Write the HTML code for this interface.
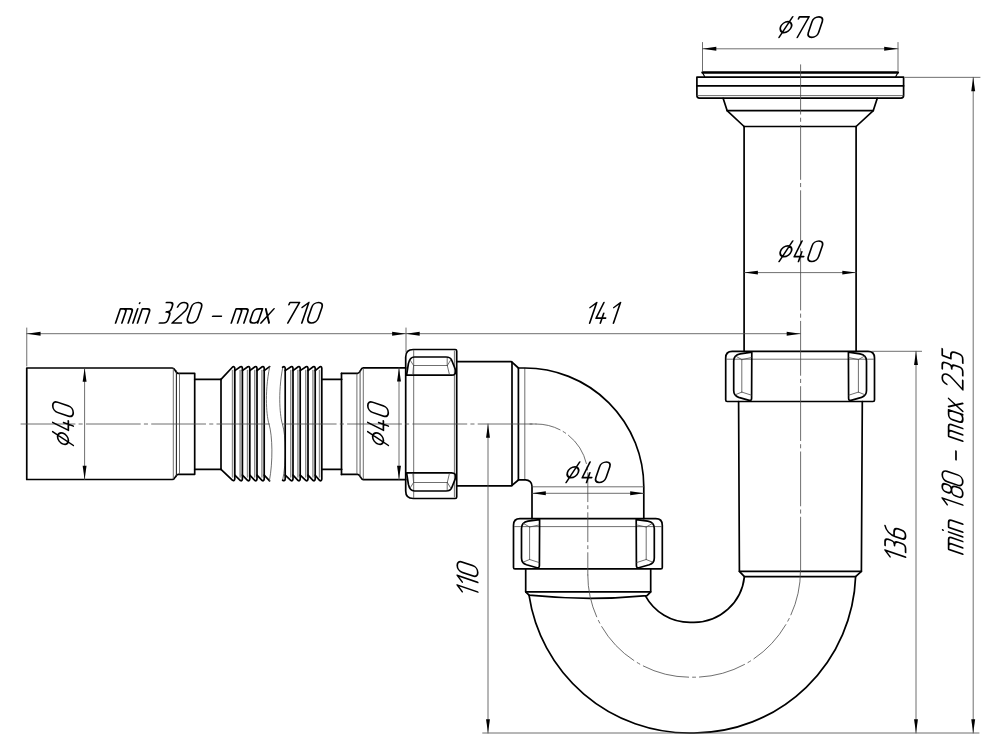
<!DOCTYPE html>
<html><head><meta charset="utf-8"><title>Siphon drawing</title>
<style>
html,body{margin:0;padding:0;background:#fff;}
body{width:1000px;height:750px;overflow:hidden;font-family:"Liberation Sans",sans-serif;}
svg{display:block;}
</style></head>
<body>
<svg width="1000" height="750" viewBox="0 0 1000 750">
<title>Siphon with flexible hose - dimensional drawing</title>
<desc>Dimensions: min 320 - max 710; 141; diameter 70; diameter 40; 110; 136; min 180 - max 235</desc>
<rect x="0" y="0" width="1000" height="750" fill="#fff"/>
<path d="M26.75,368 L172.3,368 C175.6,368 175.2,373.3 178.2,373.3 L194.7,373.3 L194.7,474.3 L178.2,474.3 C175.2,474.3 175.6,479.5 172.3,479.5 L26.75,479.5 Z" fill="none" stroke="#000" stroke-width="1.7" stroke-linecap="round" stroke-linejoin="round" />
<path d="M173.3,368.6 L173.3,479" fill="none" stroke="#4a4a4a" stroke-width="0.8" stroke-linecap="round" stroke-linejoin="round" />
<path d="M176.4,371 L176.4,476.6" fill="none" stroke="#222" stroke-width="1.1" stroke-linecap="round" stroke-linejoin="round" />
<path d="M179.5,373.8 L179.5,473.8" fill="none" stroke="#4a4a4a" stroke-width="0.8" stroke-linecap="round" stroke-linejoin="round" />
<path d="M194.7,379.3 L221,379.3 M194.7,469.3 L221,469.3" fill="none" stroke="#000" stroke-width="1.7" stroke-linecap="round" stroke-linejoin="round" />
<path d="M221,379.3 L221,469.3" fill="none" stroke="#000" stroke-width="1.7" stroke-linecap="round" stroke-linejoin="round" />
<path d="M221,379.3 L232.6,367.0 Q234.2,366.0 234.8,368.0 L234.8,479.0 Q234.2,481.4 232.6,480.4 L221,469.3" fill="none" stroke="#000" stroke-width="1.7" stroke-linecap="round" stroke-linejoin="round" />
<path d="M234.8,370.6 L240.4,366.79999999999995 Q242.0,366.0 242.4,368.2 L242.4,479.0 Q242.0,481.4 240.4,480.6 L234.8,475.2" fill="none" stroke="#000" stroke-width="1.7" stroke-linecap="round" stroke-linejoin="round" />
<path d="M242.4,370.6 L247.8,366.79999999999995 Q249.4,366.0 249.8,368.2 L249.8,479.0 Q249.4,481.4 247.8,480.6 L242.4,475.2" fill="none" stroke="#000" stroke-width="1.7" stroke-linecap="round" stroke-linejoin="round" />
<path d="M249.8,370.6 L255.0,366.79999999999995 Q256.6,366.0 257.0,368.2 L257.0,479.0 Q256.6,481.4 255.0,480.6 L249.8,475.2" fill="none" stroke="#000" stroke-width="1.7" stroke-linecap="round" stroke-linejoin="round" />
<path d="M257.0,370.6 L262.2,366.79999999999995 Q263.8,366.0 264.2,368.2 L264.2,479.0 Q263.8,481.4 262.2,480.6 L257.0,475.2" fill="none" stroke="#000" stroke-width="1.7" stroke-linecap="round" stroke-linejoin="round" />
<path d="M264.2,370.6 L269.59999999999997,366.59999999999997 M264.2,475.2 L269.59999999999997,480.8" fill="none" stroke="#000" stroke-width="1.7" stroke-linecap="round" stroke-linejoin="round" />
<path d="M232.5,370.4 L232.5,477.0" fill="none" stroke="#8c8c8c" stroke-width="1.4" stroke-linecap="round" stroke-linejoin="round" />
<path d="M240.1,370.4 L240.1,477.0" fill="none" stroke="#8c8c8c" stroke-width="1.4" stroke-linecap="round" stroke-linejoin="round" />
<path d="M247.5,370.4 L247.5,477.0" fill="none" stroke="#8c8c8c" stroke-width="1.4" stroke-linecap="round" stroke-linejoin="round" />
<path d="M254.7,370.4 L254.7,477.0" fill="none" stroke="#8c8c8c" stroke-width="1.4" stroke-linecap="round" stroke-linejoin="round" />
<path d="M261.9,370.4 L261.9,477.0" fill="none" stroke="#8c8c8c" stroke-width="1.4" stroke-linecap="round" stroke-linejoin="round" />
<path d="M269.7,366.59999999999997 C264,395 267,418 269,424 C272.6,436 273,462 269.4,480.8" fill="none" stroke="#4a4a4a" stroke-width="0.8" stroke-linecap="round" stroke-linejoin="round" />
<path d="M282.8,367.0 C277.4,395 280.4,418 282.4,424 C286,436 286.6,462 282.6,480.4" fill="none" stroke="#4a4a4a" stroke-width="0.8" stroke-linecap="round" stroke-linejoin="round" />
<path d="M282.6,367.2 Q284.8,365.79999999999995 285.2,368.2 L285.2,479.0 Q284.8,481.6 282.6,480.2" fill="none" stroke="#000" stroke-width="1.7" stroke-linecap="round" stroke-linejoin="round" />
<path d="M285.2,370.6 L291.0,366.79999999999995 Q292.6,366.0 293.0,368.2 L293.0,479.0 Q292.6,481.4 291.0,480.6 L285.2,475.2" fill="none" stroke="#000" stroke-width="1.7" stroke-linecap="round" stroke-linejoin="round" />
<path d="M293.0,370.6 L298.2,366.79999999999995 Q299.8,366.0 300.2,368.2 L300.2,479.0 Q299.8,481.4 298.2,480.6 L293.0,475.2" fill="none" stroke="#000" stroke-width="1.7" stroke-linecap="round" stroke-linejoin="round" />
<path d="M300.2,370.6 L306.0,366.79999999999995 Q307.6,366.0 308.0,368.2 L308.0,479.0 Q307.6,481.4 306.0,480.6 L300.2,475.2" fill="none" stroke="#000" stroke-width="1.7" stroke-linecap="round" stroke-linejoin="round" />
<path d="M308.0,370.6 L313.2,366.79999999999995 Q314.8,366.0 315.2,368.2 L315.2,479.0 Q314.8,481.4 313.2,480.6 L308.0,475.2" fill="none" stroke="#000" stroke-width="1.7" stroke-linecap="round" stroke-linejoin="round" />
<path d="M315.2,370.6 L319.8,366.79999999999995 Q321.40000000000003,366.0 321.8,368.2 L321.8,479.0 Q321.40000000000003,481.4 319.8,480.6 L315.2,475.2" fill="none" stroke="#000" stroke-width="1.7" stroke-linecap="round" stroke-linejoin="round" />
<path d="M290.7,370.4 L290.7,477.0" fill="none" stroke="#8c8c8c" stroke-width="1.4" stroke-linecap="round" stroke-linejoin="round" />
<path d="M297.9,370.4 L297.9,477.0" fill="none" stroke="#8c8c8c" stroke-width="1.4" stroke-linecap="round" stroke-linejoin="round" />
<path d="M305.7,370.4 L305.7,477.0" fill="none" stroke="#8c8c8c" stroke-width="1.4" stroke-linecap="round" stroke-linejoin="round" />
<path d="M312.9,370.4 L312.9,477.0" fill="none" stroke="#8c8c8c" stroke-width="1.4" stroke-linecap="round" stroke-linejoin="round" />
<path d="M319.5,370.4 L319.5,477.0" fill="none" stroke="#8c8c8c" stroke-width="1.4" stroke-linecap="round" stroke-linejoin="round" />
<path d="M321.8,379.3 L341.7,379.3 M321.8,469.3 L341.7,469.3" fill="none" stroke="#000" stroke-width="1.7" stroke-linecap="round" stroke-linejoin="round" />
<path d="M341.5,373.4 L341.5,474.4" fill="none" stroke="#000" stroke-width="1.7" stroke-linecap="round" stroke-linejoin="round" />
<path d="M341.5,373.4 L357.6,373.4 C360.6,373.4 360.2,367.9 363.3,367.9 L405.7,367.9" fill="none" stroke="#000" stroke-width="1.7" stroke-linecap="round" stroke-linejoin="round" />
<path d="M341.5,474.4 L357.6,474.4 C360.6,474.4 360.2,479.6 363.3,479.6 L405.7,479.6" fill="none" stroke="#000" stroke-width="1.7" stroke-linecap="round" stroke-linejoin="round" />
<path d="M356.9,373.9 L356.9,473.9" fill="none" stroke="#4a4a4a" stroke-width="0.8" stroke-linecap="round" stroke-linejoin="round" />
<path d="M360.1,371 L360.1,476.8" fill="none" stroke="#444" stroke-width="0.9" stroke-linecap="round" stroke-linejoin="round" />
<path d="M363.3,368.5 L363.3,479" fill="none" stroke="#4a4a4a" stroke-width="0.8" stroke-linecap="round" stroke-linejoin="round" />
<path d="M456.7,351 Q456.7,349.5 455.2,349.5 L413.2,349.5 Q405.7,349.5 405.7,357 L405.7,491 Q405.7,498.5 413.2,498.5 L455.2,498.5 Q456.7,498.5 456.7,497 Z" fill="none" stroke="#000" stroke-width="1.7" stroke-linecap="round" stroke-linejoin="round" />
<path d="M413.7,350.2 L413.7,497.8" fill="none" stroke="#4a4a4a" stroke-width="0.8" stroke-linecap="round" stroke-linejoin="round" />
<path d="M454.4,351 L454.4,497" fill="none" stroke="#4a4a4a" stroke-width="0.8" stroke-linecap="round" stroke-linejoin="round" />
<path d="M414.5,357.0 L446,357.0 Q450.4,357.0 451.6,360.0 L455.6,370.0 Q456.2,375.2 451.6,375.2 L406.6,375.2 L408.4,363.6 Q409.8,357.0 414.5,357.0 Z" fill="none" stroke="#000" stroke-width="1.7" stroke-linecap="round" stroke-linejoin="round" />
<path d="M413.6,365.5 L447.3,365.5" fill="none" stroke="#4a4a4a" stroke-width="0.8" stroke-linecap="round" stroke-linejoin="round" />
<path d="M447.2,358.0 L447.2,365.5" fill="none" stroke="#4a4a4a" stroke-width="0.8" stroke-linecap="round" stroke-linejoin="round" />
<path d="M413.6,365.5 L410.2,360.2" fill="none" stroke="#4a4a4a" stroke-width="0.8" stroke-linecap="round" stroke-linejoin="round" />
<path d="M447.3,365.5 L450.6,360.2" fill="none" stroke="#4a4a4a" stroke-width="0.8" stroke-linecap="round" stroke-linejoin="round" />
<path d="M413.6,365.5 L412.8,374.4" fill="none" stroke="#4a4a4a" stroke-width="0.8" stroke-linecap="round" stroke-linejoin="round" />
<path d="M447.3,365.5 L449.4,374.4" fill="none" stroke="#4a4a4a" stroke-width="0.8" stroke-linecap="round" stroke-linejoin="round" />
<path d="M414.5,491.0 L446,491.0 Q450.4,491.0 451.6,488.0 L455.6,478.0 Q456.2,472.8 451.6,472.8 L406.6,472.8 L408.4,484.4 Q409.8,491.0 414.5,491.0 Z" fill="none" stroke="#000" stroke-width="1.7" stroke-linecap="round" stroke-linejoin="round" />
<path d="M413.6,482.5 L447.3,482.5" fill="none" stroke="#4a4a4a" stroke-width="0.8" stroke-linecap="round" stroke-linejoin="round" />
<path d="M447.2,490.0 L447.2,482.5" fill="none" stroke="#4a4a4a" stroke-width="0.8" stroke-linecap="round" stroke-linejoin="round" />
<path d="M413.6,482.5 L410.2,487.8" fill="none" stroke="#4a4a4a" stroke-width="0.8" stroke-linecap="round" stroke-linejoin="round" />
<path d="M447.3,482.5 L450.6,487.8" fill="none" stroke="#4a4a4a" stroke-width="0.8" stroke-linecap="round" stroke-linejoin="round" />
<path d="M413.6,482.5 L412.8,473.6" fill="none" stroke="#4a4a4a" stroke-width="0.8" stroke-linecap="round" stroke-linejoin="round" />
<path d="M447.3,482.5 L449.4,473.6" fill="none" stroke="#4a4a4a" stroke-width="0.8" stroke-linecap="round" stroke-linejoin="round" />
<path d="M456.7,361.6 L511,361.6 L512,362.2 L518.4,368 L518.4,480 L512,485.4 L511,485.9 L456.7,485.9" fill="none" stroke="#000" stroke-width="1.7" stroke-linecap="round" stroke-linejoin="round" />
<path d="M512,362.2 L512,485.4" fill="none" stroke="#000" stroke-width="1.7" stroke-linecap="round" stroke-linejoin="round" />
<path d="M524.8,368.3 L524.8,479.6" fill="none" stroke="#4a4a4a" stroke-width="0.8" stroke-linecap="round" stroke-linejoin="round" />
<path d="M518.4,368 L524.8,368 A119,119 0 0 1 643.8,486.8 L643.8,518.6" fill="none" stroke="#000" stroke-width="1.7" stroke-linecap="round" stroke-linejoin="round" />
<path d="M518.4,479.8 L525.6,479.8 A6.4,6.4 0 0 1 532,486.2 L532,518.6" fill="none" stroke="#000" stroke-width="1.7" stroke-linecap="round" stroke-linejoin="round" />
<path d="M532,486.8 L644,486.8" fill="none" stroke="#4a4a4a" stroke-width="0.8" stroke-linecap="round" stroke-linejoin="round" />
<path d="M515,568.9 Q513.5,568.9 513.5,567.4 L513.5,525.2 Q513.5,518.7 520,518.7 L655.8,518.7 Q662.3,518.7 662.3,525.2 L662.3,567.4 Q662.3,568.9 660.8,568.9 Z" fill="none" stroke="#000" stroke-width="1.7" stroke-linecap="round" stroke-linejoin="round" />
<path d="M514.5,526.6 L661.3,526.6" fill="none" stroke="#4a4a4a" stroke-width="0.8" stroke-linecap="round" stroke-linejoin="round" />
<path d="M539.6,519.6 L528,521.2 Q521.5,522.3 521.5,528.5 L521.5,558 Q521.5,563.2 526.5,564.8 L537,567.8 Q539.4,568.2 539.4,565.6 Z" fill="none" stroke="#000" stroke-width="1.7" stroke-linecap="round" stroke-linejoin="round" />
<path d="M529.6,527 L529.6,559.5" fill="none" stroke="#4a4a4a" stroke-width="0.8" stroke-linecap="round" stroke-linejoin="round" />
<path d="M529.6,527 L523.5,523.5" fill="none" stroke="#4a4a4a" stroke-width="0.8" stroke-linecap="round" stroke-linejoin="round" />
<path d="M529.6,559.5 L523.5,562" fill="none" stroke="#4a4a4a" stroke-width="0.8" stroke-linecap="round" stroke-linejoin="round" />
<path d="M529.6,527 L539,525" fill="none" stroke="#4a4a4a" stroke-width="0.8" stroke-linecap="round" stroke-linejoin="round" />
<path d="M529.6,559.5 L539,562.5" fill="none" stroke="#4a4a4a" stroke-width="0.8" stroke-linecap="round" stroke-linejoin="round" />
<path d="M636.1999999999999,519.6 L647.8,521.2 Q654.3,522.3 654.3,528.5 L654.3,558 Q654.3,563.2 649.3,564.8 L638.8,567.8 Q636.4,568.2 636.4,565.6 Z" fill="none" stroke="#000" stroke-width="1.7" stroke-linecap="round" stroke-linejoin="round" />
<path d="M646.1999999999999,527 L646.1999999999999,559.5" fill="none" stroke="#4a4a4a" stroke-width="0.8" stroke-linecap="round" stroke-linejoin="round" />
<path d="M646.1999999999999,527 L652.3,523.5" fill="none" stroke="#4a4a4a" stroke-width="0.8" stroke-linecap="round" stroke-linejoin="round" />
<path d="M646.1999999999999,559.5 L652.3,562" fill="none" stroke="#4a4a4a" stroke-width="0.8" stroke-linecap="round" stroke-linejoin="round" />
<path d="M646.1999999999999,527 L636.8,525" fill="none" stroke="#4a4a4a" stroke-width="0.8" stroke-linecap="round" stroke-linejoin="round" />
<path d="M646.1999999999999,559.5 L636.8,562.5" fill="none" stroke="#4a4a4a" stroke-width="0.8" stroke-linecap="round" stroke-linejoin="round" />
<path d="M525.7,568.9 L525.7,591.8 L650.7,591.8 L650.7,568.9" fill="none" stroke="#000" stroke-width="1.7" stroke-linecap="round" stroke-linejoin="round" />
<path d="M525.7,591.8 L529,595.2 Q588,601.2 647,595.6 L650.7,591.8" fill="none" stroke="#000" stroke-width="1.7" stroke-linecap="round" stroke-linejoin="round" />
<path d="M529,595.2 A162,162 0 0 0 690,733 L694,733 A162.5,162.5 0 0 0 855.6,576.6" fill="none" stroke="#000" stroke-width="1.7" stroke-linecap="round" stroke-linejoin="round" />
<path d="M645.4,595.8 A51,51 0 0 0 690,622.4 L694,622.4 A51,51 0 0 0 744.4,576.6" fill="none" stroke="#000" stroke-width="1.7" stroke-linecap="round" stroke-linejoin="round" />
<path d="M738.6,401.5 L739.4,571.3 L861.4,571.3 L862.3,401.5" fill="none" stroke="#000" stroke-width="1.7" stroke-linecap="round" stroke-linejoin="round" />
<path d="M739.4,571.3 L744.4,576.6 L855.6,576.6 L861.4,571.3" fill="none" stroke="#000" stroke-width="1.7" stroke-linecap="round" stroke-linejoin="round" />
<g transform="translate(212.20,-167.40)">
<path d="M515,568.9 Q513.5,568.9 513.5,567.4 L513.5,525.2 Q513.5,518.7 520,518.7 L655.8,518.7 Q662.3,518.7 662.3,525.2 L662.3,567.4 Q662.3,568.9 660.8,568.9 Z" fill="none" stroke="#000" stroke-width="1.7" stroke-linecap="round" stroke-linejoin="round" />
<path d="M514.5,526.6 L661.3,526.6" fill="none" stroke="#4a4a4a" stroke-width="0.8" stroke-linecap="round" stroke-linejoin="round" />
<path d="M539.6,519.6 L528,521.2 Q521.5,522.3 521.5,528.5 L521.5,558 Q521.5,563.2 526.5,564.8 L537,567.8 Q539.4,568.2 539.4,565.6 Z" fill="none" stroke="#000" stroke-width="1.7" stroke-linecap="round" stroke-linejoin="round" />
<path d="M529.6,527 L529.6,559.5" fill="none" stroke="#4a4a4a" stroke-width="0.8" stroke-linecap="round" stroke-linejoin="round" />
<path d="M529.6,527 L523.5,523.5" fill="none" stroke="#4a4a4a" stroke-width="0.8" stroke-linecap="round" stroke-linejoin="round" />
<path d="M529.6,559.5 L523.5,562" fill="none" stroke="#4a4a4a" stroke-width="0.8" stroke-linecap="round" stroke-linejoin="round" />
<path d="M529.6,527 L539,525" fill="none" stroke="#4a4a4a" stroke-width="0.8" stroke-linecap="round" stroke-linejoin="round" />
<path d="M529.6,559.5 L539,562.5" fill="none" stroke="#4a4a4a" stroke-width="0.8" stroke-linecap="round" stroke-linejoin="round" />
<path d="M636.1999999999999,519.6 L647.8,521.2 Q654.3,522.3 654.3,528.5 L654.3,558 Q654.3,563.2 649.3,564.8 L638.8,567.8 Q636.4,568.2 636.4,565.6 Z" fill="none" stroke="#000" stroke-width="1.7" stroke-linecap="round" stroke-linejoin="round" />
<path d="M646.1999999999999,527 L646.1999999999999,559.5" fill="none" stroke="#4a4a4a" stroke-width="0.8" stroke-linecap="round" stroke-linejoin="round" />
<path d="M646.1999999999999,527 L652.3,523.5" fill="none" stroke="#4a4a4a" stroke-width="0.8" stroke-linecap="round" stroke-linejoin="round" />
<path d="M646.1999999999999,559.5 L652.3,562" fill="none" stroke="#4a4a4a" stroke-width="0.8" stroke-linecap="round" stroke-linejoin="round" />
<path d="M646.1999999999999,527 L636.8,525" fill="none" stroke="#4a4a4a" stroke-width="0.8" stroke-linecap="round" stroke-linejoin="round" />
<path d="M646.1999999999999,559.5 L636.8,562.5" fill="none" stroke="#4a4a4a" stroke-width="0.8" stroke-linecap="round" stroke-linejoin="round" />
</g>
<path d="M744.1,351.3 L744.1,126.5 M856.1,351.3 L856.1,126.5" fill="none" stroke="#000" stroke-width="1.7" stroke-linecap="round" stroke-linejoin="round" />
<path d="M744.1,126.5 L856.1,126.5" fill="none" stroke="#000" stroke-width="1.7" stroke-linecap="round" stroke-linejoin="round" />
<path d="M744.1,126.5 L727.1,110.6 L723.2,98.4 M856.1,126.5 L873.3,110.6 L877.2,98.4" fill="none" stroke="#000" stroke-width="1.7" stroke-linecap="round" stroke-linejoin="round" />
<path d="M727.1,110.6 L873.3,110.6" fill="none" stroke="#000" stroke-width="1.7" stroke-linecap="round" stroke-linejoin="round" />
<path d="M696.9,77.2 L903.6,77.2 L903.6,95.6 Q903.6,98.2 901,98.2 L699.5,98.2 Q696.9,98.2 696.9,95.6 Z" fill="none" stroke="#000" stroke-width="1.7" stroke-linecap="round" stroke-linejoin="round" />
<path d="M696.9,85.8 L903.6,85.8" fill="none" stroke="#000" stroke-width="1.7" stroke-linecap="round" stroke-linejoin="round" />
<path d="M697,95.6 L903.2,95.6" fill="none" stroke="#4a4a4a" stroke-width="0.8" stroke-linecap="round" stroke-linejoin="round" />
<path d="M702.6,72.5 L897.8,72.5" fill="none" stroke="#000" stroke-width="2.5" stroke-linecap="round" stroke-linejoin="round" />
<path d="M702.4,72.5 L704.6,76.5 M898,72.5 L895.8,76.5" fill="none" stroke="#000" stroke-width="1.2" stroke-linecap="round" stroke-linejoin="round" />
<path d="M21,424 L269.3,424" fill="none" stroke="#4a4a4a" stroke-width="0.8" stroke-linecap="round" stroke-linejoin="round" stroke-dasharray="54 4 3.3 4"/>
<path d="M283,424 L536,424" fill="none" stroke="#4a4a4a" stroke-width="0.8" stroke-linecap="round" stroke-linejoin="round" stroke-dasharray="54 4 3.3 4" stroke-dashoffset="0.8"/>
<path d="M530,424 L536,424" fill="none" stroke="#4a4a4a" stroke-width="0.8" stroke-linecap="round" stroke-linejoin="round" />
<path d="M536,424 A51.5,51.5 0 0 1 587.8,475.5" fill="none" stroke="#4a4a4a" stroke-width="0.8" stroke-linecap="round" stroke-linejoin="round" stroke-dasharray="25 3.5 3 3.5 34 3.5 3 10"/>
<path d="M587.8,472.7 L587.8,575" fill="none" stroke="#4a4a4a" stroke-width="0.8" stroke-linecap="round" stroke-linejoin="round" stroke-dasharray="29 4 3 4"/>
<path d="M587.8,575 A102,102 0 0 0 690,677.2 L694,677.2 A106.5,106.5 0 0 0 800.5,570.6" fill="none" stroke="#4a4a4a" stroke-width="0.8" stroke-linecap="round" stroke-linejoin="round" stroke-dasharray="47 4 3 4" stroke-dashoffset="4"/>
<path d="M800.6,64.8 L800.6,571" fill="none" stroke="#4a4a4a" stroke-width="0.8" stroke-linecap="round" stroke-linejoin="round" stroke-dasharray="54 4 3.3 4" stroke-dashoffset="4.7"/>
<path d="M26.75,366 L26.75,328" fill="none" stroke="#4a4a4a" stroke-width="0.8" stroke-linecap="round" stroke-linejoin="round" />
<path d="M406,352 L406,328" fill="none" stroke="#4a4a4a" stroke-width="0.8" stroke-linecap="round" stroke-linejoin="round" />
<path d="M26.75,333.7 L800.5,333.7" fill="none" stroke="#4a4a4a" stroke-width="0.8" stroke-linecap="round" stroke-linejoin="round" />
<path d="M26.75,333.70 L40.55,335.65 L40.55,331.75 Z" fill="#000" stroke="none"/>
<path d="M405.90,333.70 L392.10,331.75 L392.10,335.65 Z" fill="#000" stroke="none"/>
<path d="M405.90,333.70 L419.70,335.65 L419.70,331.75 Z" fill="#000" stroke="none"/>
<path d="M800.50,333.70 L786.70,331.75 L786.70,335.65 Z" fill="#000" stroke="none"/>
<path d="M84.6,368 L84.6,479.5" fill="none" stroke="#4a4a4a" stroke-width="0.8" stroke-linecap="round" stroke-linejoin="round" />
<path d="M84.60,368.00 L82.65,381.80 L86.55,381.80 Z" fill="#000" stroke="none"/>
<path d="M84.60,479.50 L86.55,465.70 L82.65,465.70 Z" fill="#000" stroke="none"/>
<path d="M399,367.8 L399,479.6" fill="none" stroke="#4a4a4a" stroke-width="0.8" stroke-linecap="round" stroke-linejoin="round" />
<path d="M399.00,367.80 L397.05,381.60 L400.95,381.60 Z" fill="#000" stroke="none"/>
<path d="M399.00,479.60 L400.95,465.80 L397.05,465.80 Z" fill="#000" stroke="none"/>
<path d="M532,493.3 L644,493.3" fill="none" stroke="#4a4a4a" stroke-width="0.8" stroke-linecap="round" stroke-linejoin="round" />
<path d="M532.00,493.30 L545.80,495.25 L545.80,491.35 Z" fill="#000" stroke="none"/>
<path d="M644.00,493.30 L630.20,491.35 L630.20,495.25 Z" fill="#000" stroke="none"/>
<path d="M744.1,272.6 L856.1,272.6" fill="none" stroke="#4a4a4a" stroke-width="0.8" stroke-linecap="round" stroke-linejoin="round" />
<path d="M744.10,272.60 L757.90,274.55 L757.90,270.65 Z" fill="#000" stroke="none"/>
<path d="M856.10,272.60 L842.30,270.65 L842.30,274.55 Z" fill="#000" stroke="none"/>
<path d="M702.5,42.5 L702.5,71 M898,42.5 L898,71" fill="none" stroke="#4a4a4a" stroke-width="0.8" stroke-linecap="round" stroke-linejoin="round" />
<path d="M702.5,48.8 L898,48.8" fill="none" stroke="#4a4a4a" stroke-width="0.8" stroke-linecap="round" stroke-linejoin="round" />
<path d="M702.50,48.80 L716.30,50.75 L716.30,46.85 Z" fill="#000" stroke="none"/>
<path d="M898.00,48.80 L884.20,46.85 L884.20,50.75 Z" fill="#000" stroke="none"/>
<path d="M488.0,424 L488.0,733" fill="none" stroke="#4a4a4a" stroke-width="0.8" stroke-linecap="round" stroke-linejoin="round" />
<path d="M488.00,424.00 L486.05,437.80 L489.95,437.80 Z" fill="#000" stroke="none"/>
<path d="M488.00,733.00 L489.95,719.20 L486.05,719.20 Z" fill="#000" stroke="none"/>
<path d="M482.7,733 L979,733" fill="none" stroke="#4a4a4a" stroke-width="0.8" stroke-linecap="round" stroke-linejoin="round" />
<path d="M872,351.3 L921.6,351.3" fill="none" stroke="#4a4a4a" stroke-width="0.8" stroke-linecap="round" stroke-linejoin="round" />
<path d="M916.0,351.3 L916.0,733" fill="none" stroke="#4a4a4a" stroke-width="0.8" stroke-linecap="round" stroke-linejoin="round" />
<path d="M916.00,351.30 L914.05,365.10 L917.95,365.10 Z" fill="#000" stroke="none"/>
<path d="M916.00,733.00 L917.95,719.20 L914.05,719.20 Z" fill="#000" stroke="none"/>
<path d="M905,77.35 L980,77.35" fill="none" stroke="#4a4a4a" stroke-width="0.8" stroke-linecap="round" stroke-linejoin="round" />
<path d="M973.2,77.35 L973.2,733" fill="none" stroke="#4a4a4a" stroke-width="0.8" stroke-linecap="round" stroke-linejoin="round" />
<path d="M973.20,77.35 L971.25,91.15 L975.15,91.15 Z" fill="#000" stroke="none"/>
<path d="M973.20,733.00 L975.15,719.20 L971.25,719.20 Z" fill="#000" stroke="none"/>
<g transform="translate(0.00,323.00) matrix(2.05,0,-0.697,2.05,6.97,-20.5)" fill="none" stroke="#000" stroke-width="0.829" stroke-linecap="round" stroke-linejoin="round"><path transform="translate(56.390,0)" d="M0,10 L0,3.1 L1.7,3.1 C2.6,3.1 3.07,3.6 3.07,4.5 L3.07,10 M1.7,3.1 L4.8,3.1 C5.7,3.1 6.15,3.6 6.15,4.5 L6.15,10"/><path transform="translate(64.829,0)" d="M0,3.1 L0,10 M0,0.2 L0,0.4"/><path transform="translate(67.073,0)" d="M0,10 L0,3.1 L2.4,3.1 C3.4,3.1 3.95,3.7 3.95,4.6 L3.95,10"/><path transform="translate(77.756,0)" d="M0,0 L1.9,0 C2.9,0 3.5,0.6 3.5,1.7 L3.5,2.9 C3.5,4 2.9,4.6 1.9,4.6 L1.5,4.6 M1.9,4.6 C3,4.6 3.7,5.3 3.7,6.4 L3.7,8.2 C3.7,9.3 3,10 1.9,10 L0,10"/><path transform="translate(83.854,0)" d="M0.1,2.2 C0.3,0.9 1.2,0 2.5,0 C4,0 5,1 5,2.4 C5,3.5 4.5,4.3 3.7,5.2 L0.1,10 L4.6,10"/><path transform="translate(90.683,0)" d="M0,2.4 C0,1 1,0 2.5,0 C4,0 5,1 5,2.4 L5,7.6 C5,9 4,10 2.5,10 C1,10 0,9 0,7.6 Z"/><path transform="translate(102.634,0)" d="M0,6.7 L4.2,6.7"/><path transform="translate(112.829,0)" d="M0,10 L0,3.1 L1.7,3.1 C2.6,3.1 3.07,3.6 3.07,4.5 L3.07,10 M1.7,3.1 L4.8,3.1 C5.7,3.1 6.15,3.6 6.15,4.5 L6.15,10"/><path transform="translate(121.610,0)" d="M4.1,3.1 L4.1,10 M4.1,3.1 L1.9,3.1 C0.8,3.1 0,3.8 0,4.9 L0,8.2 C0,9.3 0.7,10 1.8,10 L2.3,10 C3.3,10 4.1,9.3 4.1,8.3"/><path transform="translate(127.317,0)" d="M0,3.1 L3.95,10 M3.95,3.1 L0,10"/><path transform="translate(137.707,0)" d="M0.2,1.0 L0.3,0 L5,0 L2.7,10"/><path transform="translate(144.829,0)" d="M0,2.4 L2.4,0 L2.4,10"/><path transform="translate(149.463,0)" d="M0,2.4 C0,1 1,0 2.5,0 C4,0 5,1 5,2.4 L5,7.6 C5,9 4,10 2.5,10 C1,10 0,9 0,7.6 Z"/></g>
<g transform="translate(584.80,323.10) matrix(2.05,0,-0.697,2.05,6.97,-20.5)" fill="none" stroke="#000" stroke-width="0.829" stroke-linecap="round" stroke-linejoin="round"><path transform="translate(0.000,0)" d="M0,2.4 L2.4,0 L2.4,10"/><path transform="translate(4.700,0)" d="M1.2,0 L0,7.6 L4.6,7.6 M2.9,5.3 L2.9,10"/><path transform="translate(11.600,0)" d="M0,2.4 L2.4,0 L2.4,10"/></g>
<g transform="translate(777.00,37.35) matrix(2.05,0,-0.697,2.05,6.97,-20.5)" fill="none" stroke="#000" stroke-width="0.829" stroke-linecap="round" stroke-linejoin="round"><path transform="translate(0.000,0)" d="M0,5 A2.65,2.65 0 1 0 5.3,5 A2.65,2.65 0 1 0 0,5 Z M1.05,10 L4.25,0"/><path transform="translate(7.220,0)" d="M0.2,1.0 L0.3,0 L5,0 L2.7,10"/><path transform="translate(14.488,0)" d="M0,2.4 C0,1 1,0 2.5,0 C4,0 5,1 5,2.4 L5,7.6 C5,9 4,10 2.5,10 C1,10 0,9 0,7.6 Z"/></g>
<g transform="translate(777.00,261.50) matrix(2.05,0,-0.697,2.05,6.97,-20.5)" fill="none" stroke="#000" stroke-width="0.829" stroke-linecap="round" stroke-linejoin="round"><path transform="translate(0.000,0)" d="M0,5 A2.65,2.65 0 1 0 5.3,5 A2.65,2.65 0 1 0 0,5 Z M1.05,10 L4.25,0"/><path transform="translate(7.600,0)" d="M1.2,0 L0,7.6 L4.6,7.6 M2.9,5.3 L2.9,10"/><path transform="translate(14.500,0)" d="M0,2.4 C0,1 1,0 2.5,0 C4,0 5,1 5,2.4 L5,7.6 C5,9 4,10 2.5,10 C1,10 0,9 0,7.6 Z"/></g>
<g transform="translate(564.00,482.50) matrix(2.05,0,-0.697,2.05,6.97,-20.5)" fill="none" stroke="#000" stroke-width="0.829" stroke-linecap="round" stroke-linejoin="round"><path transform="translate(0.000,0)" d="M0,5 A2.65,2.65 0 1 0 5.3,5 A2.65,2.65 0 1 0 0,5 Z M1.05,10 L4.25,0"/><path transform="translate(8.098,0)" d="M1.2,0 L0,7.6 L4.6,7.6 M2.9,5.3 L2.9,10"/><path transform="translate(14.732,0)" d="M0,2.4 C0,1 1,0 2.5,0 C4,0 5,1 5,2.4 L5,7.6 C5,9 4,10 2.5,10 C1,10 0,9 0,7.6 Z"/></g>
<g transform="translate(73.25,447.50) rotate(-90) matrix(2.05,0,-0.697,2.05,6.97,-20.5)" fill="none" stroke="#000" stroke-width="0.829" stroke-linecap="round" stroke-linejoin="round"><path transform="translate(0.000,0)" d="M0,5 A2.65,2.65 0 1 0 5.3,5 A2.65,2.65 0 1 0 0,5 Z M1.05,10 L4.25,0"/><path transform="translate(7.600,0)" d="M1.2,0 L0,7.6 L4.6,7.6 M2.9,5.3 L2.9,10"/><path transform="translate(14.500,0)" d="M0,2.4 C0,1 1,0 2.5,0 C4,0 5,1 5,2.4 L5,7.6 C5,9 4,10 2.5,10 C1,10 0,9 0,7.6 Z"/></g>
<g transform="translate(388.30,447.50) rotate(-90) matrix(2.05,0,-0.697,2.05,6.97,-20.5)" fill="none" stroke="#000" stroke-width="0.829" stroke-linecap="round" stroke-linejoin="round"><path transform="translate(0.000,0)" d="M0,5 A2.65,2.65 0 1 0 5.3,5 A2.65,2.65 0 1 0 0,5 Z M1.05,10 L4.25,0"/><path transform="translate(7.600,0)" d="M1.2,0 L0,7.6 L4.6,7.6 M2.9,5.3 L2.9,10"/><path transform="translate(14.500,0)" d="M0,2.4 C0,1 1,0 2.5,0 C4,0 5,1 5,2.4 L5,7.6 C5,9 4,10 2.5,10 C1,10 0,9 0,7.6 Z"/></g>
<g transform="translate(477.75,596.90) rotate(-90) matrix(2.05,0,-0.697,2.05,6.97,-20.5)" fill="none" stroke="#000" stroke-width="0.829" stroke-linecap="round" stroke-linejoin="round"><path transform="translate(0.000,0)" d="M0,2.4 L2.4,0 L2.4,10"/><path transform="translate(4.700,0)" d="M0,2.4 L2.4,0 L2.4,10"/><path transform="translate(9.400,0)" d="M0,2.4 C0,1 1,0 2.5,0 C4,0 5,1 5,2.4 L5,7.6 C5,9 4,10 2.5,10 C1,10 0,9 0,7.6 Z"/></g>
<g transform="translate(905.55,562.00) rotate(-90) matrix(2.05,0,-0.697,2.05,6.97,-20.5)" fill="none" stroke="#000" stroke-width="0.829" stroke-linecap="round" stroke-linejoin="round"><path transform="translate(0.000,0)" d="M0,2.4 L2.4,0 L2.4,10"/><path transform="translate(4.700,0)" d="M0,0 L1.9,0 C2.9,0 3.5,0.6 3.5,1.7 L3.5,2.9 C3.5,4 2.9,4.6 1.9,4.6 L1.5,4.6 M1.9,4.6 C3,4.6 3.7,5.3 3.7,6.4 L3.7,8.2 C3.7,9.3 3,10 1.9,10 L0,10"/><path transform="translate(10.700,0)" d="M3.6,0 C1.5,0.4 0,2.4 0,5 L0,8 C0,9.2 0.9,10 2.1,10 C3.3,10 4.2,9.2 4.2,8 L4.2,6.4 C4.2,5.2 3.3,4.4 2.1,4.4 L0,4.4"/></g>
<g transform="translate(962.75,554.10) rotate(-90) matrix(2.05,0,-0.697,2.05,6.97,-20.5)" fill="none" stroke="#000" stroke-width="0.829" stroke-linecap="round" stroke-linejoin="round"><path transform="translate(0.000,0)" d="M0,10 L0,3.1 L1.7,3.1 C2.6,3.1 3.07,3.6 3.07,4.5 L3.07,10 M1.7,3.1 L4.8,3.1 C5.7,3.1 6.15,3.6 6.15,4.5 L6.15,10"/><path transform="translate(8.439,0)" d="M0,3.1 L0,10 M0,0.2 L0,0.4"/><path transform="translate(10.683,0)" d="M0,10 L0,3.1 L2.4,3.1 C3.4,3.1 3.95,3.7 3.95,4.6 L3.95,10"/><path transform="translate(21.561,0)" d="M0,2.4 L2.4,0 L2.4,10"/><path transform="translate(27.171,0)" d="M2.3,4.5 C1.2,4.5 0.4,3.8 0.4,2.8 L0.4,1.8 C0.4,0.7 1.2,0 2.3,0 C3.4,0 4.2,0.7 4.2,1.8 L4.2,2.8 C4.2,3.8 3.4,4.5 2.3,4.5 C1,4.5 0,5.3 0,6.5 L0,8 C0,9.2 1,10 2.3,10 C3.6,10 4.6,9.2 4.6,8 L4.6,6.5 C4.6,5.3 3.6,4.5 2.3,4.5"/><path transform="translate(32.780,0)" d="M0,2.4 C0,1 1,0 2.5,0 C4,0 5,1 5,2.4 L5,7.6 C5,9 4,10 2.5,10 C1,10 0,9 0,7.6 Z"/><path transform="translate(44.927,0)" d="M0,6.7 L4.2,6.7"/><path transform="translate(55.122,0)" d="M0,10 L0,3.1 L1.7,3.1 C2.6,3.1 3.07,3.6 3.07,4.5 L3.07,10 M1.7,3.1 L4.8,3.1 C5.7,3.1 6.15,3.6 6.15,4.5 L6.15,10"/><path transform="translate(63.902,0)" d="M4.1,3.1 L4.1,10 M4.1,3.1 L1.9,3.1 C0.8,3.1 0,3.8 0,4.9 L0,8.2 C0,9.3 0.7,10 1.8,10 L2.3,10 C3.3,10 4.1,9.3 4.1,8.3"/><path transform="translate(69.610,0)" d="M0,3.1 L3.95,10 M3.95,3.1 L0,10"/><path transform="translate(80.098,0)" d="M0.1,2.2 C0.3,0.9 1.2,0 2.5,0 C4,0 5,1 5,2.4 C5,3.5 4.5,4.3 3.7,5.2 L0.1,10 L4.6,10"/><path transform="translate(87.024,0)" d="M0,0 L1.9,0 C2.9,0 3.5,0.6 3.5,1.7 L3.5,2.9 C3.5,4 2.9,4.6 1.9,4.6 L1.5,4.6 M1.9,4.6 C3,4.6 3.7,5.3 3.7,6.4 L3.7,8.2 C3.7,9.3 3,10 1.9,10 L0,10"/><path transform="translate(93.171,0)" d="M3.6,0 L0.4,0 L0.2,4.2 L1.9,4.2 C3.1,4.2 3.9,5 3.9,6.2 L3.9,8.1 C3.9,9.3 3.1,10 1.9,10 L0,10"/></g>
</svg>
</body></html>
